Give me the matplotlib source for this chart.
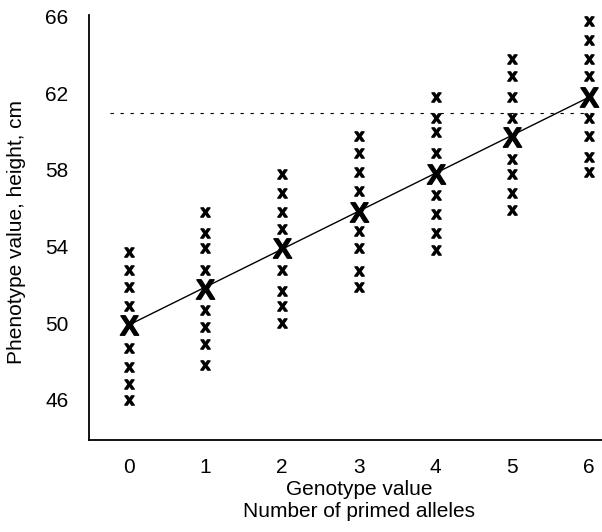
import numpy as np
import matplotlib
matplotlib.use('Agg')
import matplotlib.pyplot as plt

plt.rcParams['font.family'] = ['Liberation Sans', 'DejaVu Sans']
plt.rcParams['mathtext.fontset'] = 'custom'
plt.rcParams['mathtext.bf'] = 'Liberation Sans:bold'
plt.rcParams['mathtext.rm'] = 'Liberation Sans'

# Genotype value (number of primed alleles)
genotype = [0, 1, 2, 3, 4, 5, 6]

# Individual phenotype values, one list per genotype
pheno_0 = [53.7, 52.8, 51.9, 50.9, 48.7, 47.7, 46.8, 46.0]
pheno_1 = [55.8, 54.7, 53.9, 52.8, 50.7, 49.8, 48.9, 47.8]
pheno_2 = [57.8, 56.8, 55.8, 54.9, 52.8, 51.7, 50.9, 50.0]
pheno_3 = [59.8, 58.9, 57.9, 56.9, 54.8, 53.9, 52.7, 51.9]
pheno_4 = [61.8, 60.7, 60.0, 58.9, 56.7, 55.7, 54.7, 53.8]
pheno_5 = [63.8, 62.9, 61.8, 60.7, 58.6, 57.8, 56.8, 55.9]
pheno_6 = [65.8, 64.8, 63.8, 62.9, 60.7, 59.8, 58.7, 57.9]
phenotypes = [pheno_0, pheno_1, pheno_2, pheno_3, pheno_4, pheno_5, pheno_6]

# Genotype means (large X) and threshold line
means = [49.9, 51.8, 53.9, 55.8, 57.8, 59.7, 61.8]
threshold = 61

yticks = [46, 50, 54, 58, 62, 66]

fig = plt.figure(figsize=(6.02, 5.32), dpi=100)
ax = fig.add_axes([0.148, 0.173, 0.852, 0.799])

for g, vals in zip(genotype, phenotypes):
    ax.plot([g] * len(vals), vals, linestyle='none', marker=r'$\mathbf{x}$',
            markersize=6.8, color='black')

ax.plot(genotype, means, linestyle='none', marker=r'$\mathbf{X}$',
        markersize=14, color='black', zorder=4)
ax.plot([genotype[0], genotype[-1]], [means[0], means[-1]], color='black', lw=1.0)
ax.hlines(threshold, -0.24, 6.08, colors='black', linestyles=(0, (3, 6)), lw=0.8)

ax.set_xlim(-0.515, 6.17)
ax.set_ylim(43.9, 66.1)
ax.set_xticks(genotype)
ax.set_yticks(yticks)
ax.tick_params(length=0, labelsize=15)
ax.tick_params(axis='x', pad=13)
ax.tick_params(axis='y', pad=15)

for side in ['top', 'right']:
    ax.spines[side].set_visible(False)
for side in ['left', 'bottom']:
    ax.spines[side].set_linewidth(1.3)

ax.set_xlabel('Genotype value\nNumber of primed alleles', fontsize=15, linespacing=1.15)
ax.xaxis.set_label_coords(0.526, -0.095)
ax.set_ylabel('Phenotype value, height, cm', fontsize=15)
ax.yaxis.set_label_coords(-0.123, 0.49)

fig.savefig('out.png', dpi=100)
